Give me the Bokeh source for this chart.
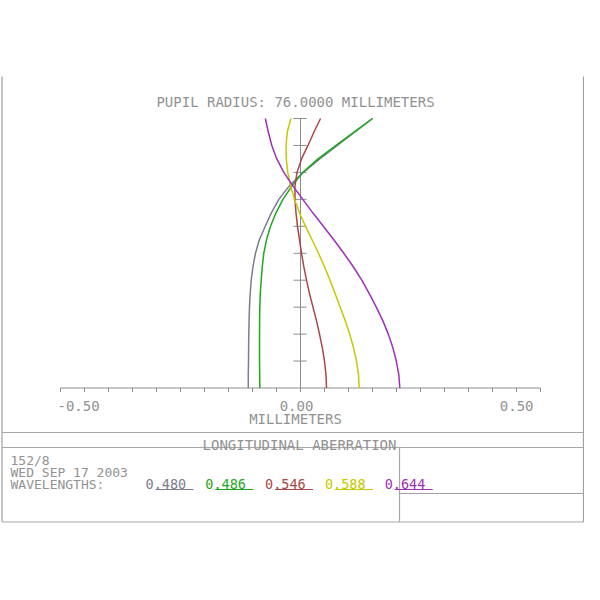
from bokeh.plotting import figure
from bokeh.models import Range1d
from bokeh.core.properties import value
from bokeh.embed import file_html
from bokeh.resources import INLINE

# ---------------- data ----------------
pupil = [0.00, 0.05, 0.10, 0.15, 0.20, 0.25, 0.30, 0.35, 0.40, 0.45, 0.50,
         0.55, 0.60, 0.65, 0.70, 0.75, 0.80, 0.85, 0.90, 0.95, 1.00]
ab_480 = [-0.1088, -0.1088, -0.1083, -0.1081, -0.1077, -0.1071, -0.1063, -0.1048, -0.1027, -0.0990, -0.0938,
          -0.0858, -0.0733, -0.0608, -0.0452, -0.0233, 0.0058, 0.0402, 0.0767, 0.1135, 0.1504]
ab_486 = [-0.0848, -0.0850, -0.0854, -0.0854, -0.0854, -0.0852, -0.0848, -0.0838, -0.0819, -0.0796, -0.0765,
          -0.0708, -0.0625, -0.0510, -0.0365, -0.0177, 0.0052, 0.0365, 0.0740, 0.1121, 0.1500]
ab_546 = [0.0542, 0.0531, 0.0500, 0.0454, 0.0396, 0.0333, 0.0260, 0.0188, 0.0125, 0.0069, 0.0021,
          -0.0021, -0.0063, -0.0094, -0.0115, -0.0115, -0.0073, 0.0021, 0.0156, 0.0281, 0.0417]
ab_588 = [0.1223, 0.1208, 0.1167, 0.1104, 0.1025, 0.0931, 0.0827, 0.0723, 0.0615, 0.0500, 0.0375,
          0.0240, 0.0104, -0.0021, -0.0125, -0.0208, -0.0265, -0.0296, -0.0302, -0.0275, -0.0202]
ab_644 = [0.2069, 0.2048, 0.1996, 0.1923, 0.1829, 0.1715, 0.1579, 0.1433, 0.1277, 0.1100, 0.0902,
          0.0694, 0.0475, 0.0256, 0.0048, -0.0160, -0.0348, -0.0494, -0.0598, -0.0671, -0.0733]
wavelength_labels = ["0.480", "0.486", "0.546", "0.588", "0.644"]
series = [ab_480, ab_486, ab_546, ab_588, ab_644]
colors = ["#7c7c90", "#1fa81f", "#a84848", "#c8c800", "#a030b8"]

x_ticks = [-0.50, -0.45, -0.40, -0.35, -0.30, -0.25, -0.20, -0.15, -0.10, -0.05, 0.00,
           0.05, 0.10, 0.15, 0.20, 0.25, 0.30, 0.35, 0.40, 0.45, 0.50]
x_tick_labels = ["-0.50", "0.00", "0.50"]
x_tick_label_at = [-0.50, 0.00, 0.50]
y_ticks = [0.1, 0.2, 0.3, 0.4, 0.5, 0.6, 0.7, 0.8, 0.9, 1.0]

title_text = "PUPIL RADIUS: 76.0000 MILLIMETERS"
x_title = "MILLIMETERS"
panel_title = "LONGITUDINAL ABERRATION"
info_lines = ["152/8", "WED SEP 17 2003", "WAVELENGTHS:"]

# ---------------- layout helpers (page pixel -> data) ----------------
OFF = 0
SIZE = 584

def mx(page_x):
    return (page_x - 300.0) / 480.0

def fy(page_y):
    return (387.5 - page_y) / 269.5

p = figure(width=SIZE, height=SIZE, output_backend="svg", toolbar_location=None,
           x_range=Range1d(mx(OFF), mx(OFF + SIZE)), y_range=Range1d(fy(OFF + SIZE), fy(OFF)),
           x_axis_type=None, y_axis_type=None, min_border=0, tools="")
p.outline_line_color = None
p.background_fill_color = "white"
p.border_fill_color = "white"

GRAY = "#8c8c8c"
TXT = "#929292"
FONT = value("DejaVu Sans Mono")

# frame / panel lines
L, R = 1.5, 583
p.segment(x0=[mx(L), mx(R)], y0=[fy(76), fy(76)], x1=[mx(L), mx(R)], y1=[fy(521.5), fy(521.5)],
          line_color="#a0a0a0", line_width=1.2)
p.segment(x0=[mx(L)] * 3, y0=[fy(432), fy(447), fy(521.5)], x1=[mx(R)] * 3,
          y1=[fy(432), fy(447), fy(521.5)], line_color="#a8a8a8", line_width=1.2)
p.segment(x0=[mx(399)], y0=[fy(447)], x1=[mx(399)], y1=[fy(521.5)], line_color="#a8a8a8", line_width=1.2)
p.segment(x0=[mx(399)], y0=[fy(493)], x1=[mx(R)], y1=[fy(493)], line_color="#a0a0a0", line_width=1.2)

# axes
p.segment(x0=[x_ticks[0]], y0=[0], x1=[x_ticks[-1]], y1=[0], line_color=GRAY, line_width=1)
p.segment(x0=[0], y0=[0], x1=[0], y1=[y_ticks[-1]], line_color=GRAY, line_width=1)
p.segment(x0=x_ticks, y0=[0] * len(x_ticks), x1=x_ticks, y1=[-4 / 269.5] * len(x_ticks),
          line_color=GRAY, line_width=1)
p.segment(x0=[-7 / 480] * len(y_ticks), y0=y_ticks, x1=[6 / 480] * len(y_ticks), y1=y_ticks,
          line_color=GRAY, line_width=1)

# curves
for vals, c in zip(series, colors):
    p.line(vals, pupil, line_color=c, line_width=1.5, line_join="round")

# texts
def txt(x, y, s, align="left", size="14px", color=TXT):
    p.text(x=[x], y=[y], text=[s], text_font=FONT, text_font_size=value(size),
           text_color=color, text_align=align, text_baseline="alphabetic")

txt(mx(295), fy(101), title_text, "center")
aligns = ["left", "center", "right"]
offs = [-3, -4, -7]
for lab, at, al, o in zip(x_tick_labels, x_tick_label_at, aligns, offs):
    txt(at + o / 480, fy(405.5), lab, al)
txt(mx(295), fy(418.5), x_title, "center")
txt(mx(299), fy(444.5), panel_title, "center")
for i, s in enumerate(info_lines):
    txt(mx(10), fy(460 + 11.8 * i), s, "left", "13px")

for i, (lab, c) in enumerate(zip(wavelength_labels, colors)):
    left = 145 + 59.8 * i
    txt(mx(left), fy(483.6), lab, "left", "13.5px", c)
    p.segment(x0=[mx(left + 10)], y0=[fy(489)], x1=[mx(left + 48)], y1=[fy(489)],
              line_color=c, line_width=1.2)

open("out.html", "w").write(file_html(p, INLINE))
